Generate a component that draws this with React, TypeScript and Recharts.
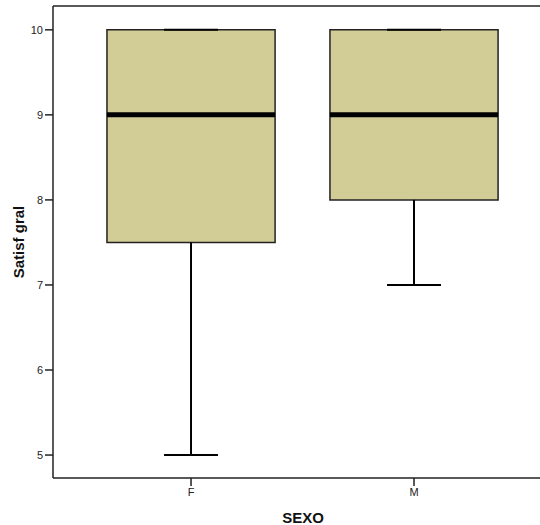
import { ComposedChart, XAxis, YAxis, ReferenceArea, ReferenceLine, Scatter } from "recharts";

const categories = ["F", "M"];
const mins = [5, 7];
const q1s = [7.5, 8];
const medians = [9, 9];
const q3s = [10, 10];
const maxs = [10, 10];

const yTicks = [5, 6, 7, 8, 9, 10];
const yDomain = [4.73, 10.28];
const xDomain = [0.381, 2.565];

const BOX_HALF = 0.377;
const CAP_HALF = 0.121;
const FILL = "#D2CD97";
const FONT = "'Liberation Sans', Arial, sans-serif";

const rows = categories.map((c, i) => ({
  x: i + 1,
  name: c,
  min: mins[i],
  q1: q1s[i],
  median: medians[i],
  q3: q3s[i],
  max: maxs[i],
}));

export default function App() {
  return (
    <div style={{ position: "absolute", left: 0, top: 0, background: "#fff" }}>
      <ComposedChart width={540} height={525} data={rows} margin={{ top: 6, right: 0, bottom: 0, left: 0 }}>
        <XAxis
          dataKey="x"
          type="number"
          domain={xDomain}
          ticks={[1, 2]}
          allowDataOverflow
          tickFormatter={(v: number) => categories[v - 1]}
          height={47}
          tickSize={8}
          stroke="#222"
          strokeWidth={1.5}
          tick={{ fill: "#222", fontSize: 11, fontFamily: FONT }}
          label={{
            content: ({ viewBox }: any) => (
              <text
                x={viewBox.x + 250}
                y={viewBox.y + 45}
                textAnchor="middle"
                fontFamily={FONT}
                fontSize={15}
                fontWeight="bold"
                fill="#111"
              >
                SEXO
              </text>
            ),
          }}
        />
        <YAxis
          type="number"
          domain={yDomain}
          ticks={yTicks}
          allowDataOverflow
          width={53}
          tickSize={8}
          stroke="#222"
          strokeWidth={1.5}
          tick={{ fill: "#222", fontSize: 11, fontFamily: FONT }}
          label={{
            content: ({ viewBox }: any) => {
              const cx = 18;
              const cy = viewBox.y + viewBox.height / 2;
              return (
                <text
                  x={cx}
                  y={cy}
                  transform={`rotate(-90, ${cx}, ${cy})`}
                  textAnchor="middle"
                  dominantBaseline="central"
                  fontFamily={FONT}
                  fontSize={15}
                  fontWeight="bold"
                  fill="#111"
                >
                  Satisf gral
                </text>
              );
            },
          }}
        />
        <ReferenceLine y={yDomain[1]} stroke="#222" strokeWidth={1.5} />
        {rows.map((r) => (
          <ReferenceLine
            key={`lw-${r.name}`}
            segment={[{ x: r.x, y: r.min }, { x: r.x, y: r.q1 }]}
            stroke="#000"
            strokeWidth={2}
          />
        ))}
        {rows.map((r) => (
          <ReferenceLine
            key={`lc-${r.name}`}
            segment={[{ x: r.x - CAP_HALF, y: r.min }, { x: r.x + CAP_HALF, y: r.min }]}
            stroke="#000"
            strokeWidth={2}
          />
        ))}
        {rows.map((r) => (
          <ReferenceArea
            key={`box-${r.name}`}
            x1={r.x - BOX_HALF}
            x2={r.x + BOX_HALF}
            y1={r.q1}
            y2={r.q3}
            fill={FILL}
            fillOpacity={1}
            stroke="#222"
            strokeWidth={1.5}
          />
        ))}
        {rows.map((r) => (
          <ReferenceLine
            key={`uc-${r.name}`}
            segment={[{ x: r.x - CAP_HALF, y: r.max }, { x: r.x + CAP_HALF, y: r.max }]}
            stroke="#000"
            strokeWidth={2}
          />
        ))}
        {rows.map((r) => (
          <ReferenceLine
            key={`med-${r.name}`}
            segment={[{ x: r.x - BOX_HALF, y: r.median }, { x: r.x + BOX_HALF, y: r.median }]}
            stroke="#000"
            strokeWidth={5}
          />
        ))}
        <Scatter dataKey="median" fill="none" shape={() => <g />} isAnimationActive={false} />
      </ComposedChart>
    </div>
  );
}
